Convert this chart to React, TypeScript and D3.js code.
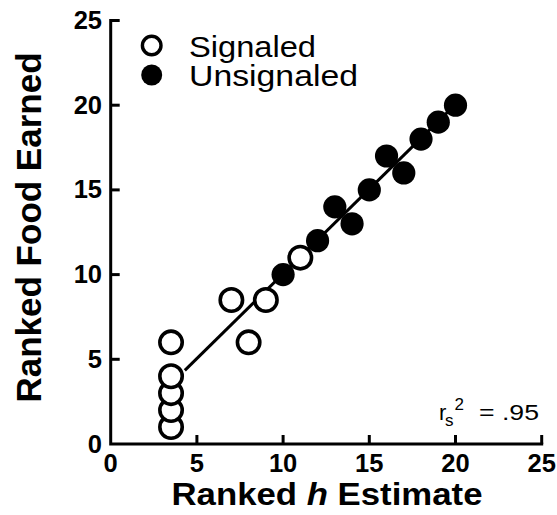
import React, { useEffect, useRef } from "react";
import * as d3 from "d3";

// open circles
const signaledX = [3.5, 3.5, 3.5, 3.5, 3.5, 7, 8, 9, 11];
const signaledY = [1, 2, 3, 4, 6, 8.5, 6, 8.5, 11];
// filled circles
const unsignaledX = [10, 12, 13, 14, 15, 16, 17, 18, 19, 20];
const unsignaledY = [10, 12, 14, 13, 15, 17, 16, 18, 19, 20];
// fitted line end points
const fitX = [4.3, 20];
const fitY = [4.35, 20.05];
const tickValues = [0, 5, 10, 15, 20, 25];
const legendLabels = ["Signaled", "Unsignaled"];
const legendWidths = [127, 169];

const FONT = "'Liberation Sans', Arial, Helvetica, sans-serif";

function App() {
  const ref = useRef<SVGSVGElement>(null);

  useEffect(() => {
    const svg = d3.select(ref.current);
    svg.selectAll("*").remove();

    const x = d3.scaleLinear().domain([0, 25]).range([110.7, 541.7]);
    const y = d3.scaleLinear().domain([0, 25]).range([444, 20.5]);

    const axes = svg
      .append("g")
      .attr("stroke", "#000")
      .attr("stroke-width", 3)
      .attr("fill", "none");

    // axis lines
    axes
      .append("path")
      .attr("d", `M${x(0)},${y(25)}V${y(0)}H${x(25)}`)
      .attr("stroke-linecap", "square");

    // inward ticks
    axes
      .selectAll(".xt")
      .data(tickValues.slice(1))
      .enter()
      .append("line")
      .attr("x1", (d) => x(d))
      .attr("x2", (d) => x(d))
      .attr("y1", y(0))
      .attr("y2", y(0) - 9);

    axes
      .selectAll(".yt")
      .data(tickValues.slice(1))
      .enter()
      .append("line")
      .attr("x1", x(0))
      .attr("x2", x(0) + 9)
      .attr("y1", (d) => y(d))
      .attr("y2", (d) => y(d));

    // tick labels
    svg
      .selectAll(".xl")
      .data(tickValues)
      .enter()
      .append("text")
      .attr("x", (d) => x(d))
      .attr("y", 472)
      .attr("text-anchor", "middle")
      .style("font-family", FONT)
      .style("font-weight", "bold")
      .style("font-size", "25.5px")
      .text((d) => d);

    svg
      .selectAll(".yl")
      .data(tickValues)
      .enter()
      .append("text")
      .attr("x", 102)
      .attr("y", (d) => y(d) + 8.5)
      .attr("text-anchor", "end")
      .style("font-family", FONT)
      .style("font-weight", "bold")
      .style("font-size", "25.5px")
      .text((d) => d);

    // axis titles
    const xt = svg
      .append("text")
      .attr("x", 171.5)
      .attr("y", 504.5)
      .attr("textLength", 311)
      .attr("lengthAdjust", "spacingAndGlyphs")
      .style("font-family", FONT)
      .style("font-weight", "bold")
      .style("font-size", "31px");
    xt.append("tspan").text("Ranked ");
    xt.append("tspan").style("font-style", "italic").text("h");
    xt.append("tspan").text(" Estimate");

    svg
      .append("text")
      .attr("transform", "translate(41,227.5) rotate(-90)")
      .attr("text-anchor", "middle")
      .style("font-family", FONT)
      .style("font-weight", "bold")
      .style("font-size", "35px")
      .text("Ranked Food Earned");

    // fit line
    const line = d3
      .line<number>()
      .x((d) => x(d))
      .y((d, i) => y(fitY[i]));
    svg
      .append("path")
      .attr("d", line(fitX))
      .attr("fill", "none")
      .attr("stroke", "#000")
      .attr("stroke-width", 3);

    // points
    svg
      .selectAll(".sig")
      .data(signaledX)
      .enter()
      .append("circle")
      .attr("cx", (d) => x(d))
      .attr("cy", (d, i) => y(signaledY[i]))
      .attr("r", 11.2)
      .attr("fill", "#fff")
      .attr("stroke", "#000")
      .attr("stroke-width", 3.6);

    svg
      .selectAll(".uns")
      .data(unsignaledX)
      .enter()
      .append("circle")
      .attr("cx", (d) => x(d))
      .attr("cy", (d, i) => y(unsignaledY[i]))
      .attr("r", 11.6)
      .attr("fill", "#000");

    // legend
    const legend = svg.append("g");
    legend
      .append("circle")
      .attr("cx", 151.7)
      .attr("cy", 45.5)
      .attr("r", 9.3)
      .attr("fill", "#fff")
      .attr("stroke", "#000")
      .attr("stroke-width", 3.4);
    legend
      .append("circle")
      .attr("cx", 151.7)
      .attr("cy", 75)
      .attr("r", 10.5)
      .attr("fill", "#000");
    legend
      .selectAll("text")
      .data(legendLabels)
      .enter()
      .append("text")
      .attr("x", 189)
      .attr("y", (d, i) => 56.5 + i * 29)
      .attr("textLength", (d, i) => legendWidths[i])
      .attr("lengthAdjust", "spacingAndGlyphs")
      .style("font-family", FONT)
      .style("font-size", "30px")
      .text((d) => d);

    // r_s^2 annotation
    const note = svg
      .append("g")
      .style("font-family", FONT)
      .attr("fill", "#000");
    note.append("text").attr("x", 439).attr("y", 419.5).style("font-size", "22px").text("r");
    note.append("text").attr("x", 445).attr("y", 425.5).style("font-size", "17px").text("s");
    note.append("text").attr("x", 454.5).attr("y", 410).style("font-size", "17px").text("2");
    note
      .append("text")
      .attr("x", 479)
      .attr("y", 419.5)
      .attr("textLength", 60)
      .attr("lengthAdjust", "spacingAndGlyphs")
      .style("font-size", "22px")
      .text("= .95");
  }, []);

  return (
    <svg
      ref={ref}
      width={557}
      height={515}
      style={{ position: "absolute", left: 0, top: 0, background: "#fff" }}
    ></svg>
  );
}

export default App;
